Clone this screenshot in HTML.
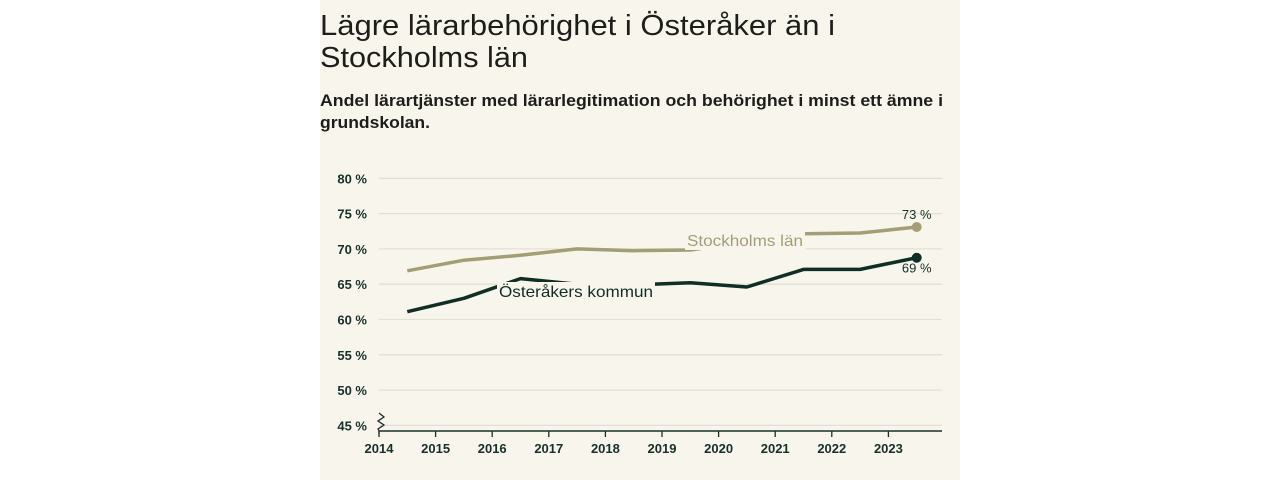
<!DOCTYPE html>
<html><head><meta charset="utf-8">
<style>
html,body{margin:0;padding:0;background:#fff;}
#wrap{position:absolute;left:320px;top:0;width:640px;height:480px;background:#f8f6ec;}
svg{position:absolute;left:0;top:0;}
text{font-family:"Liberation Sans",sans-serif;}
</style></head>
<body>
<div id="wrap"></div>
<svg id="chart" width="1280" height="480">
  <text x="320" y="35" font-size="29" fill="#1d1d1b" textLength="515" lengthAdjust="spacingAndGlyphs">Lägre lärarbehörighet i Österåker än i</text>
  <text x="320" y="67" font-size="29" fill="#1d1d1b" textLength="208" lengthAdjust="spacingAndGlyphs">Stockholms län</text>
  <text x="320" y="106" font-size="17" font-weight="bold" fill="#1d1d1b" textLength="623" lengthAdjust="spacingAndGlyphs">Andel lärartjänster med lärarlegitimation och behörighet i minst ett ämne i</text>
  <text x="320" y="128" font-size="17" font-weight="bold" fill="#1d1d1b" textLength="110" lengthAdjust="spacingAndGlyphs">grundskolan.</text>
  <g id="grid"></g><g id="axes"></g><g id="series"></g><g id="labels"></g>
</svg>
<script>
const years = [2014,2015,2016,2017,2018,2019,2020,2021,2022,2023];
const yTicks = [45,50,55,60,65,70,75,80];
const stockholm = [66.9,68.4,69.1,70.0,69.75,69.85,71.0,72.15,72.25,73.1];
const osteraker = [61.1,63.0,65.8,65.0,64.9,65.2,64.6,67.1,67.1,68.75];
const endLabels = ["73 %","69 %"];

const X0=379, XSTEP=56.6, Y80=178.3, PXPER=7.06;
const xs = v => X0 + (v-2014)*XSTEP;
const ys = v => Y80 + (80-v)*PXPER;
const NS="http://www.w3.org/2000/svg";
function mk(tag, attrs, parent){const e=document.createElementNS(NS,tag);for(const k in attrs)e.setAttribute(k,attrs[k]);parent.appendChild(e);return e;}
const grid=document.getElementById('grid'), axes=document.getElementById('axes'), series=document.getElementById('series'), labels=document.getElementById('labels');

yTicks.forEach(t=>{
  const l=mk('line',{x1:X0,x2:942,y1:ys(t),y2:ys(t),stroke:'#e2e0d6','stroke-width':1.3},grid);
  
  
  const tx=mk('text',{x:367,y:ys(t)+5,'font-size':13,'text-anchor':'end',fill:'#16302a','font-weight':'bold'},axes);
  tx.textContent=t+' %';
  
  
});
const ax=mk('line',{x1:X0,x2:942,y1:431,y2:431,stroke:'#16302a','stroke-width':1.5},axes);


const brk=mk('path',{d:`M${X0},413 l5,4 l-6,4 l6,4 l-6,4 l1,2 v3`,fill:'none',stroke:'#16302a','stroke-width':1.3},axes);


years.forEach(y=>{
  const t=mk('line',{x1:xs(y),x2:xs(y),y1:431,y2:437,stroke:'#16302a','stroke-width':1.3},axes);
  
  
  const tx=mk('text',{x:xs(y),y:453,'font-size':13,'text-anchor':'middle',fill:'#16302a','font-weight':'bold'},axes);
  tx.textContent=y;
  
  
});
function drawLine(vals,color,name){
  const d=vals.map((v,i)=>(i?'L':'M')+xs(years[i]+0.5).toFixed(1)+','+ys(v).toFixed(1)).join(' ');
  const p=mk('path',{d:d,fill:'none',stroke:color,'stroke-width':3.5,'stroke-linejoin':'round'},series);
  
  
  const n=vals.length-1;
  const c=mk('circle',{cx:xs(years[n]+0.5),cy:ys(vals[n]),r:5,fill:color},series);
  
  
}
const SC='#a39e76', OC='#0f2e25';
drawLine(stockholm,SC,'stockholm');
drawLine(osteraker,OC,'osteraker');
// series labels with background
function seriesLabel(txt,x,y,w,color,name){
  const r=mk('rect',{x:x-2,y:y-15,width:w+4,height:19,fill:'#f8f6ec'},labels);
  
  
  const t=mk('text',{x:x,y:y,'font-size':16,fill:color,textLength:w,lengthAdjust:'spacingAndGlyphs'},labels);
  t.textContent=txt;
  
  
}
seriesLabel('Stockholms län',687,246,116,SC,'stockholm');
seriesLabel('Österåkers kommun',499,297,154,OC,'osteraker');
const n=years.length-1;
const e1=mk('text',{x:xs(years[n]+0.5),y:ys(stockholm[n])-8,'font-size':13,'text-anchor':'middle',fill:'#16302a'},labels);
e1.textContent=endLabels[0];


const e2=mk('text',{x:xs(years[n]+0.5),y:ys(osteraker[n])+15,'font-size':13,'text-anchor':'middle',fill:'#16302a'},labels);
e2.textContent=endLabels[1];


</script>
</body></html>
